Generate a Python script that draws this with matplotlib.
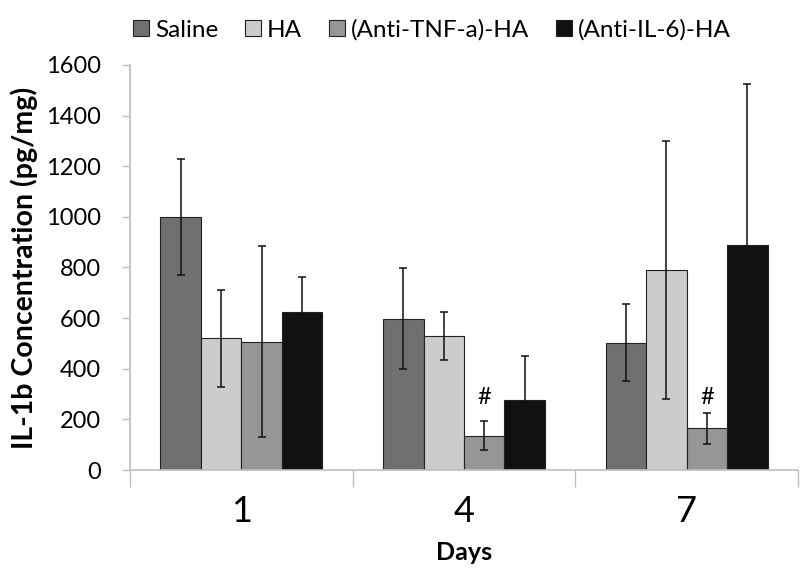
import numpy as np
import matplotlib.pyplot as plt

plt.rcParams['font.family'] = ['Lato', 'DejaVu Sans']

days = ['1', '4', '7']
groups = ['Saline', 'HA', '(Anti-TNF-a)-HA', '(Anti-IL-6)-HA']
saline = [1000, 598, 502]
ha = [520, 529, 789]
anti_tnf = [506, 136, 165]
anti_il6 = [623, 277, 889]
saline_err = [230, 199, 152]
ha_err = [191, 95, 509]
anti_tnf_err = [377, 57, 62]
anti_il6_err = [140, 175, 636]
colors = ['#707070', '#cccccc', '#969696', '#111111']

values = [saline, ha, anti_tnf, anti_il6]
errors = [saline_err, ha_err, anti_tnf_err, anti_il6_err]

fig = plt.figure(figsize=(8, 5.77), dpi=100)
ax = fig.add_axes([0.1625, 0.1854, 0.835, 0.702])

x = np.arange(len(days))
w = 1 / 5.5
for i, (vals, errs) in enumerate(zip(values, errors)):
    pos = x + (i - 1.5) * w
    ax.bar(pos, vals, w, color=colors[i], edgecolor='#222222', linewidth=0.8,
           label=groups[i], zorder=2)
    ax.errorbar(pos, vals, yerr=errs, fmt='none', ecolor='#111111',
                elinewidth=1.1, capsize=3, capthick=1.1, zorder=3)

# significance marks
for k in [1, 2]:
    ax.text(x[k] + 0.5 * w, 285, '#', ha='center', va='center', fontsize=17)

ax.set_xlim(-0.5, 2.5)
ax.set_ylim(0, 1600)
ax.set_yticks(range(0, 1601, 200))
ax.set_xticks(x)
ax.set_xticklabels(days, fontsize=26)
ax.set_xticks([-0.5, 0.5, 1.5, 2.5], minor=True)
ax.tick_params(axis='x', which='major', length=0, pad=18)
ax.tick_params(axis='x', which='minor', length=12, color='#bfbfbf', width=1)
ax.tick_params(axis='y', labelsize=17, length=6, color='#bfbfbf', width=1, pad=15)

for s in ['top', 'right']:
    ax.spines[s].set_visible(False)
for s in ['left', 'bottom']:
    ax.spines[s].set_color('#bfbfbf')
    ax.spines[s].set_linewidth(1.2)

fig.text(24 / 800, 0.536, 'IL-1b Concentration (pg/mg)', rotation=90,
         ha='center', va='center', fontsize=20.5, fontweight='bold')
ax.set_xlabel('Days', fontsize=18, fontweight='bold', labelpad=9)

fig.legend(loc='upper center', bbox_to_anchor=(0.54, 1.005), ncol=4, frameon=False,
           fontsize=17.5, handlelength=0.65, handleheight=0.65, handletextpad=0.25,
           columnspacing=1.1)

fig.savefig('out.png', dpi=100)
